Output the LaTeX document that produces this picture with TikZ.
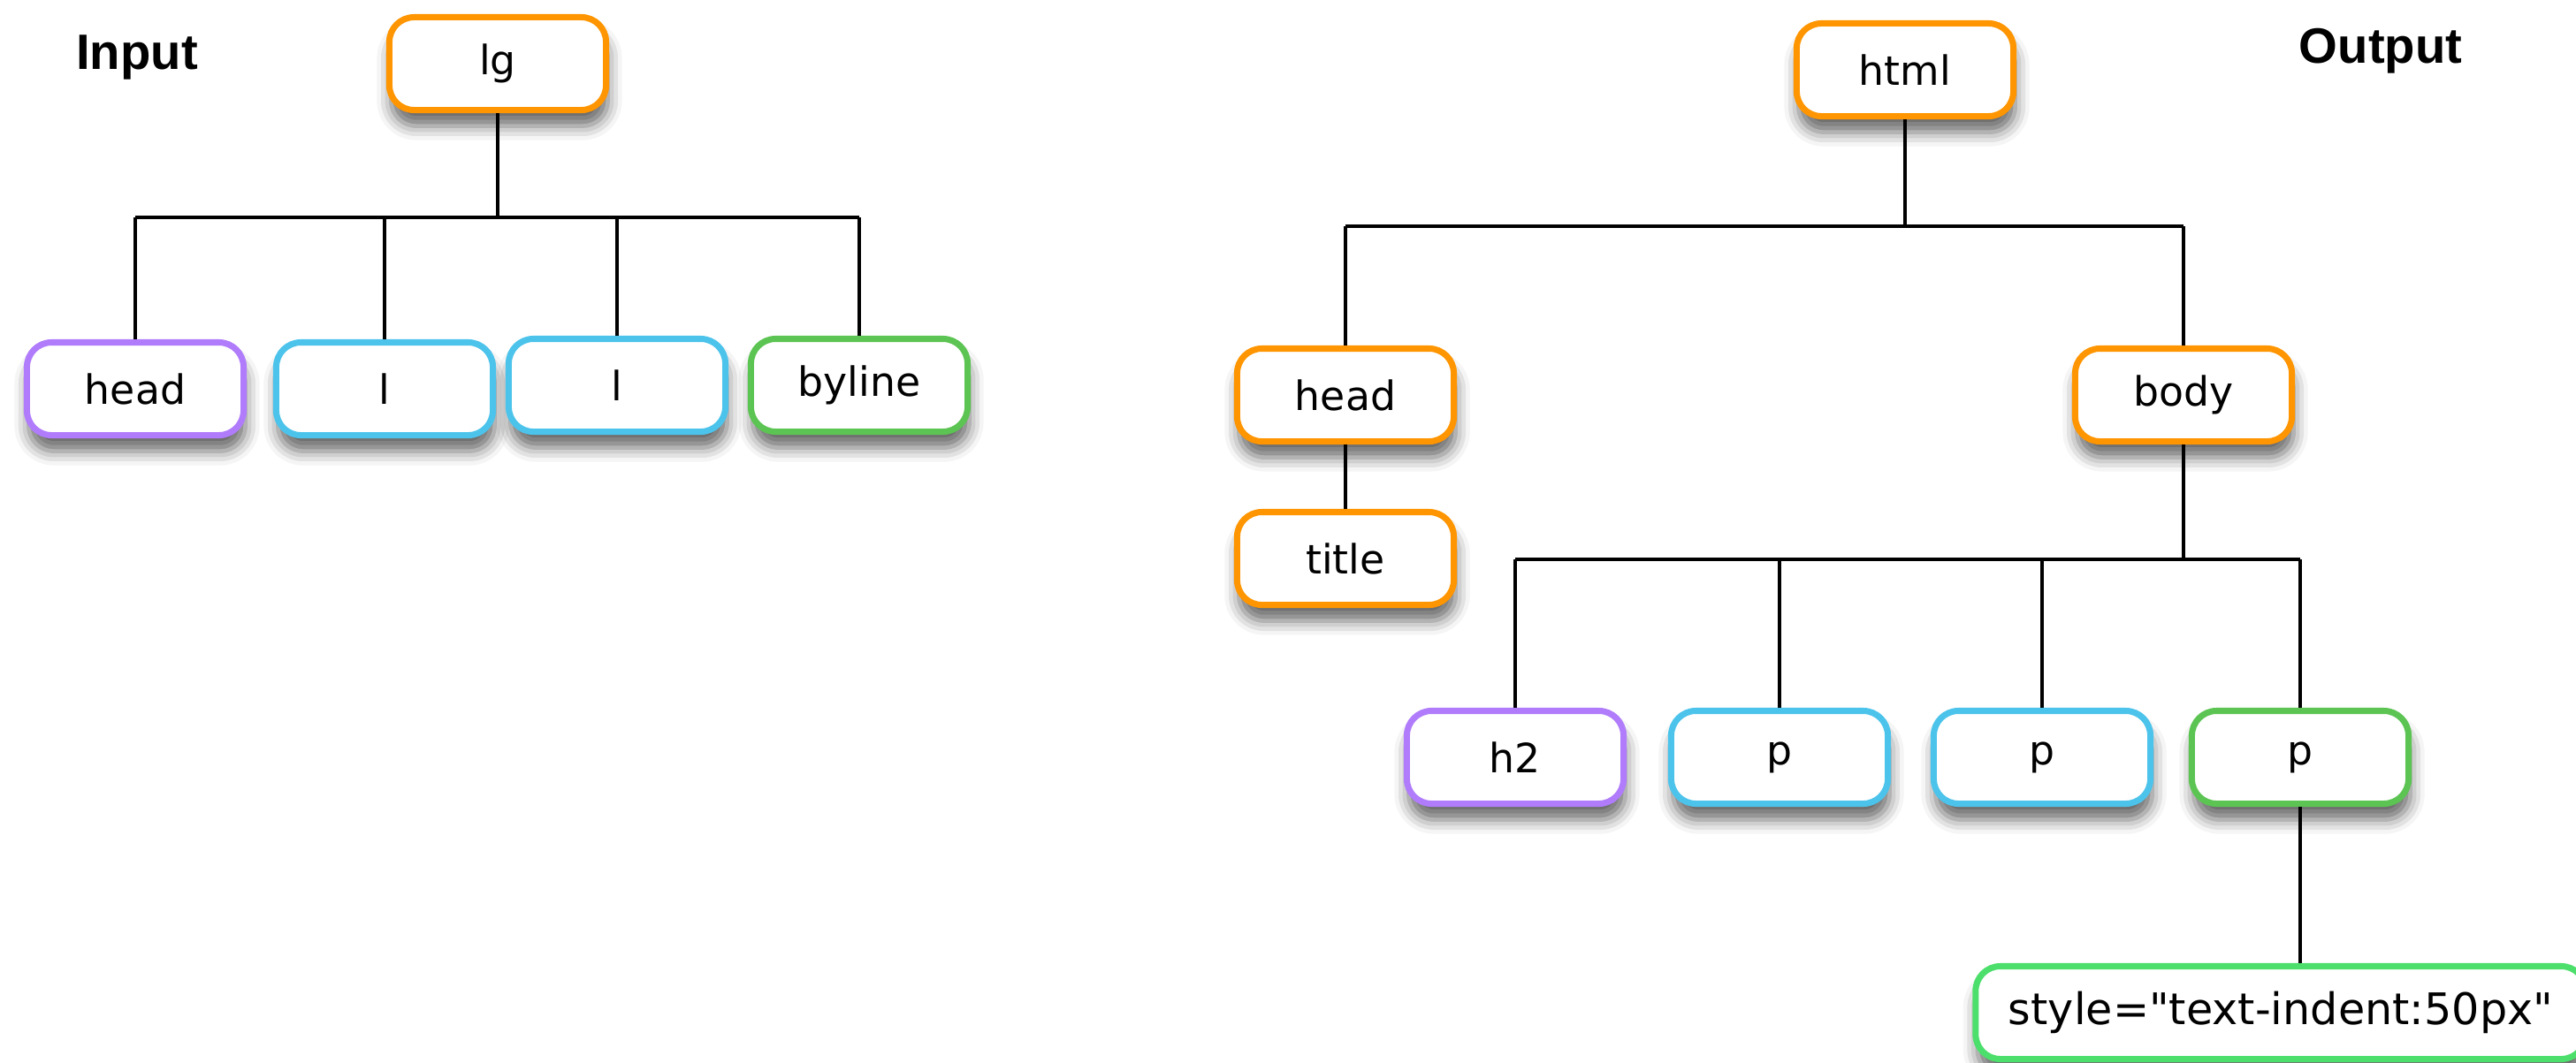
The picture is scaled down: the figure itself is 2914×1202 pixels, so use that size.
\documentclass[tikz,border=0pt]{standalone}
\usepackage{fontspec}
\newfontfamily\tagfont{DejaVu Sans}
\newfontfamily\headfont{Liberation Sans}
\usetikzlibrary{shadows.blur}
\definecolor{tagorange}{HTML}{FF9500}
\definecolor{tagpurple}{HTML}{B07CFB}
\definecolor{tagblue}{HTML}{4CC3EB}
\definecolor{taggreen}{HTML}{5CC453}
\definecolor{attrgreen}{HTML}{4DDF6C}
\tikzset{
    tag/.style={draw, fill=white, line width=2pt, rounded corners=0.28cm,
        minimum width=2.45cm, minimum height=1.05cm, inner sep=0pt,
        font=\tagfont\fontsize{13}{15}\selectfont,
        blur shadow={shadow xshift=0.02cm, shadow yshift=-0.18cm,
            shadow blur radius=0.16cm, shadow opacity=60}},
    conn/.style={line width=1.1pt},
    title/.style={font=\headfont\bfseries\fontsize{16}{18}\selectfont}
}
\begin{document}
\begin{tikzpicture}[x=0.01cm,y=-0.01cm]
        \useasboundingbox (0,0) rectangle (2914,1202);
        %% Labels
        \node[title] (input) at (155,65) {Input};
        \node[title] (output) at (2693,58) {Output};
        %% Input tree
        \node[tag,draw=tagorange] (lg) at (563,72) {lg};
        \node[tag,draw=tagpurple] (ihead) at (153,440) {head};
        \node[tag,draw=tagblue] (il1) at (435,440) {l};
        \node[tag,draw=tagblue] (il2) at (698,436) {l};
        \node[tag,draw=taggreen] (ibyline) at (972,436) {byline};
        \coordinate (inbus) at (563,246);
        \draw[conn] (lg.south) -- (inbus);
        \draw[conn] (ihead.north |- inbus) -- (ibyline.north |- inbus);
        \foreach \kid in {ihead,il1,il2,ibyline}
            \draw[conn] (\kid.north) -- (\kid.north |- inbus);
        %% Output tree
        \node[tag,draw=tagorange] (html) at (2155,79) {html};
        \node[tag,draw=tagorange] (ohead) at (1522,447) {head};
        \node[tag,draw=tagorange] (body) at (2470,447) {body};
        \node[tag,draw=tagorange] (otitle) at (1522,632) {title};
        \node[tag,draw=tagpurple] (h2) at (1714,857) {h2};
        \node[tag,draw=tagblue] (p1) at (2013,857) {p};
        \node[tag,draw=tagblue] (p2) at (2310,857) {p};
        \node[tag,draw=taggreen] (p3) at (2602,857) {p};
        \node[tag,draw=attrgreen,minimum width=6.9cm,font=\tagfont\fontsize{14}{16}\selectfont] (attr) at (2580,1146) {style="text-indent:50px"};
        \coordinate (htmlbus) at (2155,256);
        \coordinate (bodybus) at (2470,633);
        \draw[conn] (html.south) -- (htmlbus);
        \draw[conn] (ohead.north |- htmlbus) -- (body.north |- htmlbus);
        \draw[conn] (ohead.north) -- (ohead.north |- htmlbus);
        \draw[conn] (body.north) -- (body.north |- htmlbus);
        \draw[conn] (ohead.south) -- (otitle.north);
        \draw[conn] (body.south) -- (bodybus);
        \draw[conn] (h2.north |- bodybus) -- (p3.north |- bodybus);
        \foreach \kid in {h2,p1,p2,p3}
            \draw[conn] (\kid.north) -- (\kid.north |- bodybus);
        \draw[conn] (p3.south) -- (attr.north -| p3.south);
    \end{tikzpicture}
\end{document}
